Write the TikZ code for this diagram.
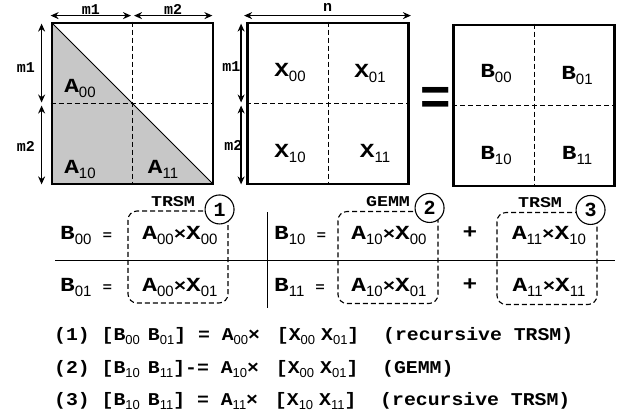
\documentclass[tikz,border=0pt]{standalone}
\usepackage{fontspec}
\setmainfont{Liberation Mono}
\newfontfamily\widemono{Liberation Mono}[FakeStretch=1.22]
\newfontfamily\stepmono{Liberation Mono}[FakeStretch=1.1]
\newfontfamily\subfnt{Liberation Sans}
\usetikzlibrary{arrows.meta,positioning,calc}

% block with subscript index
\newcommand{\blk}[2]{#1\raisebox{-5pt}{\mdseries\subfnt\fontsize{15}{15}\selectfont #2}}
\newcommand{\lblk}[2]{#1\raisebox{-3.5pt}{\mdseries\subfnt\fontsize{13}{13}\selectfont #2}}
\newcommand{\tms}{{\fontsize{17}{17}\selectfont ×}}

\begin{document}
\begin{tikzpicture}[x=1pt, y=-1pt,
    mtx/.style={draw, line width=2.8pt, minimum width=161pt, minimum height=161pt, inner sep=0pt},
    split/.style={line width=0.9pt, dash pattern=on 5pt off 3pt},
    dimarrow/.style={{Stealth[length=8pt,width=7pt]}-{Stealth[length=8pt,width=7pt]}, line width=1.5pt},
    dimlabel/.style={font=\bfseries\fontsize{15}{15}\selectfont, inner sep=1pt},
    cell/.style={font=\widemono\bfseries\fontsize{20}{20}\selectfont, inner sep=0pt},
    eqtext/.style={font=\widemono\bfseries\fontsize{20}{20}\selectfont, inner sep=0pt},
    grpbox/.style={draw, line width=1.1pt, dash pattern=on 5pt off 3pt, rounded corners=9pt, minimum width=100pt, minimum height=92pt},
    tag/.style={draw, circle, fill=white, line width=1.1pt, minimum size=29pt, inner sep=0pt, font=\bfseries\fontsize{20}{20}\selectfont},
    kernel/.style={font=\widemono\bfseries\fontsize{15}{15}\selectfont, inner sep=0pt},
    stepline/.style={font=\stepmono\bfseries\fontsize{18}{18}\selectfont, anchor=west, inner sep=0pt},
]
\useasboundingbox (0,0) rectangle (620,413);

% matrices
\node[mtx, path picture={
    \fill[black!22] (path picture bounding box.north west) -- (path picture bounding box.south east)
        -- (path picture bounding box.south west) -- cycle;
    \draw[line width=1pt] (path picture bounding box.north west) -- (path picture bounding box.south east);
  }] (A) at (132.5,103.5) {};
\node[mtx] (X) at (328,103.5) {};
\node[mtx] (B) at (534,105.5) {};
\foreach \m in {A,X,B} {
  \draw[split] (\m.north) -- (\m.south);
  \draw[split] (\m.west) -- (\m.east);
}
\node[font=\subfnt\bfseries\fontsize{52}{52}\selectfont, inner sep=0pt] (eq) at (435.5,101) {=};

\node[cell] (a00) at (80,88) {\blk{A}{00}};
\node[cell] (a10) at (80,169) {\blk{A}{10}};
\node[cell] (a11) at (163,169) {\blk{A}{11}};
\node[cell] (x00) at (290,72) {\blk{X}{00}};
\node[cell] (x01) at (370,73) {\blk{X}{01}};
\node[cell] (x10) at (290,153) {\blk{X}{10}};
\node[cell] (x11) at (375,153) {\blk{X}{11}};
\node[cell] (b00) at (496,73) {\blk{B}{00}};
\node[cell] (b01) at (577,75) {\blk{B}{01}};
\node[cell] (b10) at (496,155) {\blk{B}{10}};
\node[cell] (b11) at (577,155) {\blk{B}{11}};

% dimensions
\coordinate (at1) at ($(A.north west)+(0,-6)$);
\coordinate (at2) at ($(A.north)+(-1.5,-6)$);
\coordinate (at3) at ($(A.north)+(1.5,-6)$);
\coordinate (at4) at ($(A.north east)+(-2,-6)$);
\coordinate (al1) at ($(A.north west)+(-9,2)$);
\coordinate (al2) at ($(A.west)+(-9,-1)$);
\coordinate (al3) at ($(A.west)+(-9,2)$);
\coordinate (al4) at ($(A.south west)+(-9,-1)$);
\draw[dimarrow] (at1) -- node[dimlabel, anchor=base, yshift=1pt] {m1} (at2);
\draw[dimarrow] (at3) -- node[dimlabel, anchor=base, yshift=1pt] {m2} (at4);
\draw[dimarrow] (al1) -- node[dimlabel, left=5pt, yshift=-5pt] {m1} (al2);
\draw[dimarrow] (al3) -- node[dimlabel, left=5pt, yshift=-2pt] {m2} (al4);

\coordinate (xt1) at ($(X.north west)+(-2,-6)$);
\coordinate (xt2) at ($(X.north east)+(1,-6)$);
\coordinate (xl1) at ($(X.north west)+(-5,2)$);
\coordinate (xl2) at ($(X.west)+(-5,-1)$);
\coordinate (xl3) at ($(X.west)+(-5,2)$);
\coordinate (xl4) at ($(X.south west)+(-5,-1)$);
\draw[dimarrow] (xt1) -- node[dimlabel, anchor=base, yshift=4pt] {n} (xt2);
\draw[dimarrow] (xl1) -- node[dimlabel, left=-1pt, yshift=-4pt] {m1} (xl2);
\draw[dimarrow] (xl3) -- node[dimlabel, left=-3pt, yshift=-1pt] {m2} (xl4);

% split equations
\coordinate (hl1) at (55,260);
\coordinate (hl2) at (615,260);
\coordinate (vl1) at (267,212);
\coordinate (vl2) at (267,308);
\draw[line width=0.9pt] (hl1) -- (hl2);
\draw[line width=0.9pt] (vl1) -- (vl2);

\node[grpbox] (g1) at (178,257) {};
\node[grpbox] (g2) at (388,257.5) {};
\node[grpbox] (g3) at (547,258.5) {};

\node[eqtext, anchor=west] (e00) at (60,235) {\blk{B}{00}\hspace{11pt}{\fontsize{13}{13}\selectfont=}};
\node[eqtext, anchor=west] (e01) at (60,287) {\blk{B}{01}\hspace{11pt}{\fontsize{13}{13}\selectfont=}};
\node[eqtext, anchor=west] (e10) at (274,235) {\blk{B}{10}\hspace{11pt}{\fontsize{13}{13}\selectfont=}};
\node[eqtext, anchor=west] (e11) at (274,287) {\blk{B}{11}\hspace{11pt}{\fontsize{13}{13}\selectfont=}};
\node[eqtext] (p1) at (180,235) {\blk{A}{00}\tms\blk{X}{00}};
\node[eqtext] (p2) at (180,287) {\blk{A}{00}\tms\blk{X}{01}};
\node[eqtext] (p3) at (389,235) {\blk{A}{10}\tms\blk{X}{00}};
\node[eqtext] (p4) at (389,287) {\blk{A}{10}\tms\blk{X}{01}};
\node[eqtext] (p5) at (549,235) {\blk{A}{11}\tms\blk{X}{10}};
\node[eqtext] (p6) at (549,287) {\blk{A}{11}\tms\blk{X}{11}};
\node[eqtext] (plus1) at (470,233) {+};
\node[eqtext] (plus2) at (470,285) {+};

\node[kernel] (k1) at ($(g1.north)+(-5,-9)$) {TRSM};
\node[kernel] (k2) at ($(g2.north)+(0,-9)$) {GEMM};
\node[kernel] (k3) at ($(g3.north)+(-7,-9)$) {TRSM};
\node[tag] (c1) at ($(g1.north east)+(-9,-1)$) {1};
\node[tag] (c2) at ($(g2.north east)+(-9,-3)$) {2};
\node[tag] (c3) at ($(g3.north east)+(-7,-2)$) {3};

% steps
\node[stepline] (s1) at (54,336) {(1)~[\lblk{B}{00}\hspace{8pt}\lblk{B}{01}]~=~\lblk{A}{00}×~\hspace{5pt}[\lblk{X}{00}\hspace{6pt}\lblk{X}{01}]~~(recursive TRSM)};
\node[stepline] (s2) at (54,369) {(2)~[\lblk{B}{10}\hspace{8pt}\lblk{B}{11}]-=~\lblk{A}{10}×~\hspace{5pt}[\lblk{X}{00}\hspace{6pt}\lblk{X}{01}]~~(GEMM)};
\node[stepline] (s3) at (54,401) {(3)~[\lblk{B}{10}\hspace{8pt}\lblk{B}{11}]~=~\lblk{A}{11}×~\hspace{5pt}[\lblk{X}{10}\hspace{6pt}\lblk{X}{11}]~~(recursive TRSM)};
\end{tikzpicture}
\end{document}
